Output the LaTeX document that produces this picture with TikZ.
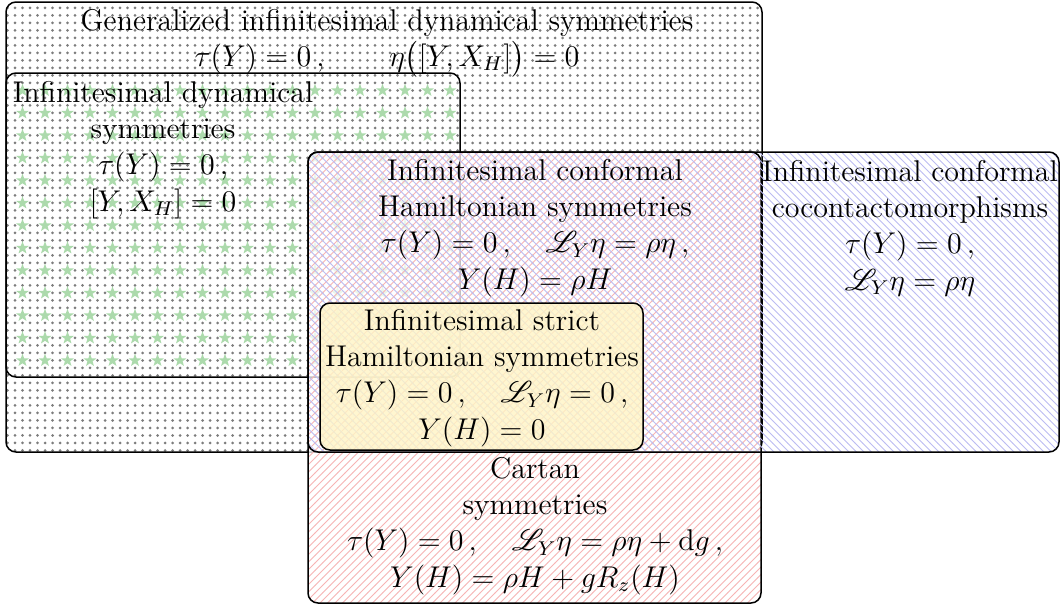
\documentclass[12pt,tikz,border=0pt]{standalone}
\usepackage{amsmath}
\usepackage{mathrsfs}
\usetikzlibrary{patterns}
\definecolor{cdot}{RGB}{125,125,125}
\definecolor{cstar}{RGB}{172,218,172}
\definecolor{cneline}{RGB}{247,180,180}
\definecolor{cnwline}{RGB}{188,188,242}
\definecolor{cyel}{RGB}{255,245,198}
% sparser dots and bigger stars than the stock patterns
\pgfdeclarepatternformonly{sdots}{\pgfqpoint{-1pt}{-1pt}}{\pgfqpoint{1pt}{1pt}}{\pgfqpoint{3pt}{3pt}}%
  {\pgfpathcircle{\pgfpointorigin}{0.6pt}\pgfusepath{fill}}
\pgfdeclarepatternformonly{bigstars}{\pgfqpoint{-3pt}{-3pt}}{\pgfqpoint{3pt}{3pt}}{\pgfqpoint{9pt}{9pt}}%
  {\pgfpathmoveto{\pgfqpointpolar{90}{2.7pt}}
   \foreach \a in {1,...,9}{\pgfmathsetmacro\r{mod(\a,2)==0 ? 2.7 : 1.1}%
     \pgfpathlineto{\pgfpointpolar{90+36*\a}{\r pt}}}
   \pgfpathclose\pgfusepath{fill}}
\tikzset{symset/.style={x=0.4pt,y=-0.4pt,rounded corners=4pt,semithick},
  symtext/.style={align=center,inner sep=0pt}}

\begin{document}
\begin{tikzpicture}[symset]
    \useasboundingbox (0,0) rectangle (1061,608);
    \draw[pattern=sdots,pattern color=cdot] (6,2) rectangle (762,452);                  % generalized
    \draw[pattern=bigstars,pattern color=cstar] (6,73) rectangle (460,377);            % dynamical
    \fill[white,fill opacity=0.75] (308,152) rectangle (761,603);
    \draw[pattern=north east lines,pattern color=cneline] (308,152) rectangle (761,603); % Cartan
    \draw[pattern=north west lines,pattern color=cnwline] (308,152) rectangle (1059,452); % cocontacto
    \draw[fill=cyel,fill opacity=0.8] (320,303) rectangle (643,450);                   % strict
    \node[symtext] (gen) at (387,43) {Generalized infinitesimal dynamical symmetries\\
      $\tau(Y)=0\,,\qquad \eta\bigl([Y,X_H]\bigr)=0$};
    \node[symtext] (dyn) at (163,150) {Infinitesimal dynamical\\ symmetries\\
      $\tau(Y)=0\,,$\\ $[Y,X_H]=0$};
    \node[symtext] (confham) at (535,228) {Infinitesimal conformal\\ Hamiltonian symmetries\\
      $\tau(Y)=0\,,\quad \mathscr{L}_Y\eta=\rho\eta\,,$\\ $Y(H)=\rho H$};
    \node[symtext] (cocont) at (910,228) {Infinitesimal conformal\\ cocontactomorphisms\\
      $\tau(Y)=0\,,$\\ $\mathscr{L}_Y\eta=\rho\eta$};
    \node[symtext] (strict) at (482,378) {Infinitesimal strict\\ Hamiltonian symmetries\\
      $\tau(Y)=0\,,\quad \mathscr{L}_Y\eta=0\,,$\\ $Y(H)=0$};
    \node[symtext] (cartan) at (535,526) {Cartan\\ symmetries\\
      $\tau(Y)=0\,,\quad \mathscr{L}_Y\eta=\rho\eta+\mathrm{d}g\,,$\\ $Y(H)=\rho H+gR_z(H)$};
\end{tikzpicture}
\end{document}
